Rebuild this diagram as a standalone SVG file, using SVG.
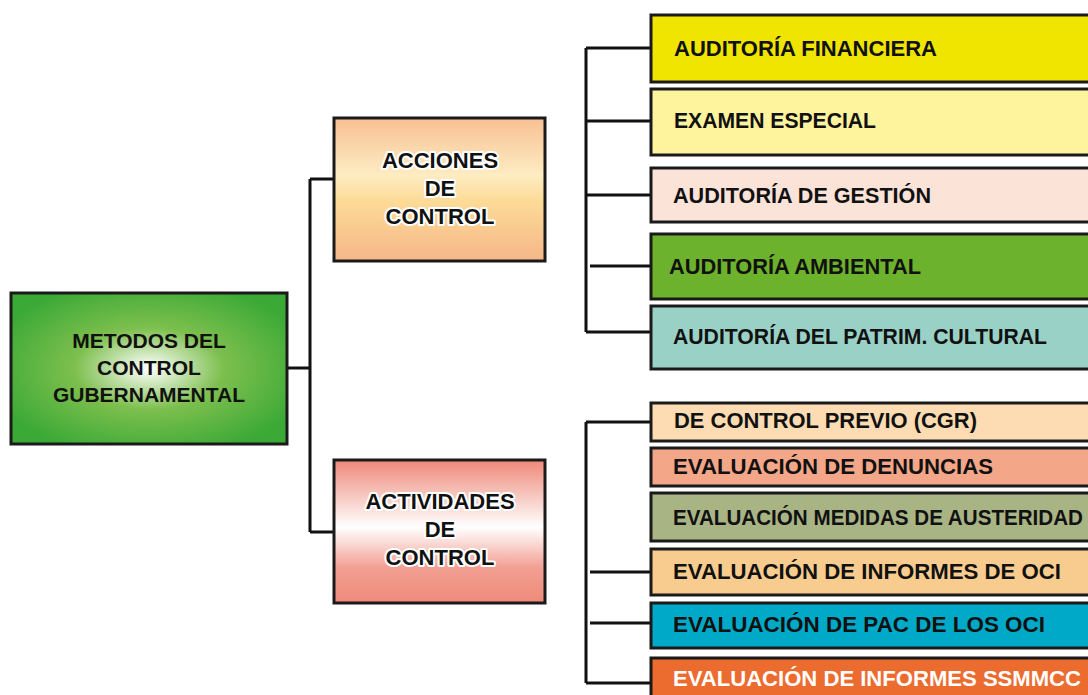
<svg xmlns="http://www.w3.org/2000/svg" width="1088" height="695" viewBox="0 0 1088 695">
<defs>
<radialGradient id="gGreen" cx="0.5" cy="0.5" r="0.6">
<stop offset="0" stop-color="#ffffff"/>
<stop offset="0.45" stop-color="#7dbf4e"/>
<stop offset="1" stop-color="#3aa935"/>
</radialGradient>
<linearGradient id="gAcc" x1="0" y1="0" x2="0" y2="1">
<stop offset="0" stop-color="#f8c094"/>
<stop offset="0.4" stop-color="#feecc2"/>
<stop offset="0.58" stop-color="#fddb97"/>
<stop offset="1" stop-color="#f5b689"/>
</linearGradient>
<linearGradient id="gAct" x1="0" y1="0" x2="0" y2="1">
<stop offset="0" stop-color="#ee8878"/>
<stop offset="0.47" stop-color="#ffffff"/>
<stop offset="0.75" stop-color="#f2a094"/>
<stop offset="1" stop-color="#ef8a78"/>
</linearGradient>
</defs>
<style>
.box{stroke:#1a1a1a;stroke-width:3}
.mid{font-family:"Liberation Sans",Arial,sans-serif;font-weight:bold;font-size:22px;fill:#111;text-anchor:middle;stroke:#fff;stroke-width:4;stroke-linejoin:round;paint-order:stroke}
.main{font-family:"Liberation Sans",Arial,sans-serif;font-weight:bold;font-size:21px;fill:#111;text-anchor:middle}
.lbl{font-family:"Liberation Sans",Arial,sans-serif;font-weight:bold;font-size:22px;fill:#111}
.conn{stroke:#111;stroke-width:3;fill:none}
</style>
<rect width="1088" height="695" fill="#ffffff"/>
<g id="connectors">
<path class="conn" d="M287 368H310M310 179V532M310 179H333M310 532H333"/>
<path class="conn" d="M586 48V332M586 48H650M586 121H650M586 195H650M590 266H650M586 332H650"/>
<path class="conn" d="M586 422V683M586 422H650M590 572H650M590 623H650M586 683H650"/>
</g>
<g id="n-main">
<rect class="box" x="11" y="293" width="276" height="151" fill="url(#gGreen)"/>
<text class="main" x="149" y="348">METODOS DEL</text>
<text class="main" x="149" y="375">CONTROL</text>
<text class="main" x="149" y="402">GUBERNAMENTAL</text>
</g>
<g id="n-acciones">
<rect class="box" x="334" y="118" width="211" height="143" fill="url(#gAcc)"/>
<text class="mid" x="440" y="168">ACCIONES</text>
<text class="mid" x="440" y="196">DE</text>
<text class="mid" x="440" y="224">CONTROL</text>
</g>
<g id="n-actividades">
<rect class="box" x="334" y="460" width="211" height="143" fill="url(#gAct)"/>
<text class="mid" x="440" y="509">ACTIVIDADES</text>
<text class="mid" x="440" y="537">DE</text>
<text class="mid" x="440" y="565">CONTROL</text>
</g>
<g id="n-af">
<rect class="box" x="651" y="15" width="460" height="67" fill="#f0e500"/>
<text class="lbl" x="674" y="56" textLength="263" lengthAdjust="spacingAndGlyphs">AUDITORÍA FINANCIERA</text>
</g>
<g id="n-ee">
<rect class="box" x="651" y="89" width="460" height="66" fill="#fef49e"/>
<text class="lbl" x="674" y="128" textLength="202" lengthAdjust="spacingAndGlyphs">EXAMEN ESPECIAL</text>
</g>
<g id="n-ag">
<rect class="box" x="651" y="168" width="460" height="54" fill="#fbe3d8"/>
<text class="lbl" x="673" y="203" textLength="258" lengthAdjust="spacingAndGlyphs">AUDITORÍA DE GESTIÓN</text>
</g>
<g id="n-aa">
<rect class="box" x="651" y="234" width="460" height="65" fill="#6db22c"/>
<text class="lbl" x="669" y="274" textLength="252" lengthAdjust="spacingAndGlyphs">AUDITORÍA AMBIENTAL</text>
</g>
<g id="n-ap">
<rect class="box" x="651" y="306" width="460" height="63" fill="#99d1c7"/>
<text class="lbl" x="673" y="344" textLength="374" lengthAdjust="spacingAndGlyphs">AUDITORÍA DEL PATRIM. CULTURAL</text>
</g>
<g id="n-cp">
<rect class="box" x="651" y="403" width="460" height="38" fill="#fddcb3"/>
<text class="lbl" x="674" y="428" textLength="303" lengthAdjust="spacingAndGlyphs">DE CONTROL PREVIO (CGR)</text>
</g>
<g id="n-ed">
<rect class="box" x="651" y="448" width="460" height="38" fill="#f4a688"/>
<text class="lbl" x="673" y="474" textLength="320" lengthAdjust="spacingAndGlyphs">EVALUACIÓN DE DENUNCIAS</text>
</g>
<g id="n-em">
<rect class="box" x="651" y="493" width="460" height="48" fill="#a9b485"/>
<text class="lbl" x="673" y="525" textLength="410" lengthAdjust="spacingAndGlyphs">EVALUACIÓN MEDIDAS DE AUSTERIDAD</text>
</g>
<g id="n-ei">
<rect class="box" x="651" y="549" width="460" height="46" fill="#f8cc8e"/>
<text class="lbl" x="673" y="579" textLength="388" lengthAdjust="spacingAndGlyphs">EVALUACIÓN DE INFORMES DE OCI</text>
</g>
<g id="n-ep">
<rect class="box" x="651" y="603" width="460" height="45" fill="#00a9c7"/>
<text class="lbl" x="673" y="632" textLength="372" lengthAdjust="spacingAndGlyphs">EVALUACIÓN DE PAC DE LOS OCI</text>
</g>
<g id="n-es">
<rect class="box" x="651" y="658" width="460" height="60" fill="#ec6b2f"/>
<text class="lbl" x="673" y="686" textLength="408" lengthAdjust="spacingAndGlyphs" style="fill:#ffffff">EVALUACIÓN DE INFORMES SSMMCC</text>
</g>
</svg>
